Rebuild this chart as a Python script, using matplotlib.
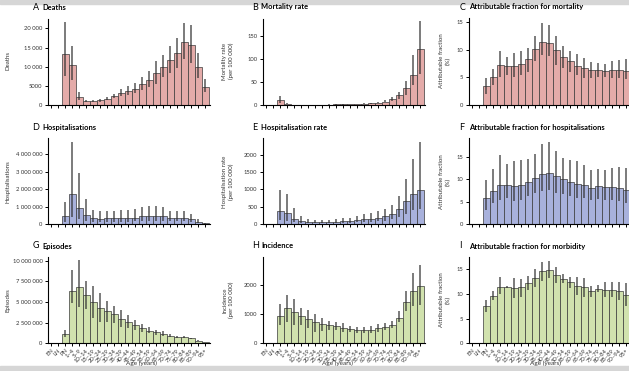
import matplotlib.pyplot as plt
from matplotlib.patches import Rectangle

plt.rcParams["font.family"] = ["Lato", "DejaVu Sans"]

# ---------------------------------------------------------------------------
# Datos. Las barras empiezan en la 3a categoria (PN).
# ---------------------------------------------------------------------------

edades = ["EN", "LN", "PN", "1–4", "5–9", "10–14", "15–19", "20–24", "25–29",
          "30–34", "35–39", "40–44", "45–49", "50–54", "55–59", "60–64",
          "65–69", "70–74", "75–79", "80–84", "85–89", "90–94", "95+"]

muertes = [13300, 10500, 2100, 1000, 1000, 1200, 1600, 2300, 3100, 3700, 4200,
           5500, 6600, 8400, 10000, 11700, 13500, 16400, 15600, 10000, 4800]
muertes_lo = [7500, 6500, 1200, 700, 700, 900, 1200, 1700, 2300, 2700, 3100,
              4000, 4800, 5500, 7200, 8300, 9700, 11900, 11100, 7100, 3300]
muertes_hi = [21600, 15300, 3300, 1400, 1300, 1500, 2100, 3000, 4200, 5000, 5800,
              7200, 8900, 11600, 13100, 15400, 17400, 21400, 20800, 13700, 6900]

mortalidad = [11.5, 2.3, 0.7, 0.5, 0.6, 0.7, 0.8, 1.0, 1.1, 1.3, 1.6, 2.0, 2.5,
              3.5, 5.0, 7.5, 12, 21, 37.5, 64, 121]
mortalidad_lo = [4, 1.2, 0.4, 0.3, 0.4, 0.5, 0.6, 0.7, 0.8, 0.9, 1.1, 1.4, 1.8,
                 2.5, 3.5, 5.5, 8, 13.7, 22, 44, 66]
mortalidad_hi = [18.7, 3.5, 1.0, 0.7, 0.8, 0.9, 1.0, 1.3, 1.4, 1.8, 2.1, 2.6, 3.3,
                 4.6, 6.5, 10, 16.6, 27.4, 51, 109, 181]

fa_mort = [3.45, 5.1, 7.3, 7.0, 7.0, 7.4, 8.3, 10.1, 11.4, 11.2, 10.0, 8.65, 7.9,
           7.1, 6.65, 6.35, 6.3, 6.2, 6.3, 6.3, 6.2]
fa_mort_lo = [2.0, 3.6, 5.1, 5.4, 5.1, 5.4, 6.0, 7.9, 9.1, 8.8, 7.3, 6.7, 6.0,
              5.4, 4.8, 4.8, 5.0, 5.0, 4.9, 4.8, 4.7]
fa_mort_hi = [4.9, 6.5, 9.7, 8.7, 9.3, 9.7, 10.3, 12.5, 14.8, 14.5, 12.4, 10.6, 9.8,
              9.2, 8.4, 7.7, 7.6, 7.4, 7.9, 8.2, 8.3]

hosp = [460e3, 1.72e6, 900e3, 520e3, 360e3, 290e3, 320e3, 330e3, 330e3, 340e3,
        370e3, 440e3, 450e3, 450e3, 470e3, 350e3, 350e3, 360e3, 280e3, 130e3, 40e3]
hosp_lo = [130e3, 400e3, 300e3, 150e3, 120e3, 100e3, 100e3, 120e3, 120e3, 130e3,
           150e3, 170e3, 180e3, 180e3, 180e3, 150e3, 150e3, 150e3, 120e3, 50e3, 20e3]
hosp_hi = [1.24e6, 4.7e6, 2.95e6, 1.43e6, 830e3, 750e3, 720e3, 720e3, 780e3, 800e3,
           860e3, 950e3, 1.05e6, 1.05e6, 1.0e6, 720e3, 720e3, 720e3, 550e3, 270e3, 80e3]

tasa_hosp = [373, 316, 144, 85, 60, 55, 55, 60, 65, 75, 90, 110, 130, 150, 185,
             230, 290, 430, 670, 860, 970]
tasa_hosp_lo = [115, 86, 48, 30, 22, 20, 20, 22, 25, 30, 35, 45, 55, 65, 80,
                100, 130, 200, 300, 390, 430]
tasa_hosp_hi = [976, 861, 450, 230, 140, 120, 115, 115, 140, 160, 180, 230, 290,
                330, 370, 420, 560, 810, 1300, 1870, 2350]

fa_hosp = [5.8, 7.4, 8.7, 8.7, 8.5, 8.6, 9.4, 10.2, 11.1, 11.3, 10.7, 10.0, 9.3,
           8.9, 8.7, 8.1, 8.5, 8.3, 8.3, 8.1, 7.5]
fa_hosp_lo = [3.1, 4.6, 5.4, 5.7, 5.2, 5.3, 6.2, 6.9, 7.4, 7.6, 7.0, 6.6, 6.2,
              5.9, 5.7, 5.3, 5.6, 5.4, 5.4, 5.2, 4.8]
fa_hosp_hi = [9.9, 12.3, 15.3, 13.4, 14.0, 14.4, 14.5, 15.6, 17.8, 18.2, 16.2, 14.7,
              14.4, 14.1, 13.2, 12.0, 12.3, 12.1, 12.5, 12.8, 12.6]

episodios = [1.13e6, 6.4e6, 6.8e6, 5.8e6, 5.0e6, 4.25e6, 3.9e6, 3.52e6, 2.95e6,
             2.55e6, 2.23e6, 1.82e6, 1.54e6, 1.34e6, 1.17e6, 0.93e6, 0.8e6,
             0.76e6, 0.6e6, 0.3e6, 0.12e6]
episodios_lo = [0.81e6, 4.86e6, 4.45e6, 4.17e6, 3.1e6, 2.63e6, 2.55e6, 2.43e6,
                2.0e6, 1.82e6, 1.62e6, 1.42e6, 1.21e6, 1.01e6, 0.93e6, 0.81e6,
                0.7e6, 0.65e6, 0.5e6, 0.25e6, 0.1e6]
episodios_hi = [1.62e6, 8.9e6, 10.1e6, 7.6e6, 7.0e6, 6.1e6, 5.15e6, 4.55e6, 4.05e6,
                3.45e6, 2.85e6, 2.35e6, 1.98e6, 1.66e6, 1.46e6, 1.09e6, 0.9e6,
                0.88e6, 0.7e6, 0.36e6, 0.14e6]

incidencia = [937, 1200, 1063, 937, 834, 720, 651, 620, 590, 520, 490, 450, 440,
              450, 520, 560, 620, 880, 1400, 1790, 1970]
incidencia_lo = [628, 743, 629, 629, 514, 400, 423, 470, 450, 400, 380, 350, 340,
                 350, 400, 450, 510, 720, 1100, 1280, 1300]
incidencia_hi = [1337, 1657, 1520, 1223, 1143, 1006, 857, 770, 720, 700, 600, 570,
                 570, 580, 650, 700, 750, 1100, 1790, 2400, 2700]

fa_morb = [7.6, 9.7, 11.5, 11.5, 11.2, 11.4, 12.2, 13.2, 14.6, 14.9, 13.9, 13.1,
           12.4, 11.7, 11.4, 10.7, 11.1, 10.9, 10.9, 10.6, 9.8]
fa_morb_lo = [6.45, 8.7, 10.0, 11.2, 9.2, 9.5, 10.9, 11.5, 12.6, 13.2, 12.2, 12.2,
              11.3, 9.8, 9.5, 9.5, 10.5, 9.5, 9.4, 8.8, 7.6]
fa_morb_hi = [8.8, 10.7, 13.4, 11.7, 13.2, 13.1, 13.6, 15.1, 16.6, 16.8, 15.6, 14.1,
              13.4, 13.4, 13.2, 11.7, 11.9, 12.4, 12.5, 12.5, 12.3]

ticks_muertes = ["0", "5000", "10 000", "15 000", "20 000"]
ticks_hosp = ["0", "1 000 000", "2 000 000", "3 000 000", "4 000 000"]
ticks_episodios = ["0", "2 500 000", "5 000 000", "7 500 000", "10 000 000"]

# ---------------------------------------------------------------------------
# Paneles
# ---------------------------------------------------------------------------

ROJO = "#e4aba9"
AZUL = "#a8b1dc"
VERDE = "#d1e2ae"

W, H = 629, 371
fig = plt.figure(figsize=(W / 100, H / 100), dpi=100)

COL_X = [47.5, 262.5, 468.5]
FILAS = [(18.5, 105), (138, 224), (256.7, 343.3)]
ANCHO = 23.2 * 7

paneles = [
    # (fila, col, letra, titulo, ylabel, valores, lo, hi, color, ytop, ticks, ticklabels)
    (0, 0, "A", "Deaths", "Deaths", muertes, muertes_lo, muertes_hi, ROJO,
     22600, [0, 5000, 10000, 15000, 20000], ticks_muertes),
    (0, 1, "B", "Mortality rate", "Mortality rate\n(per 100 000)", mortalidad,
     mortalidad_lo, mortalidad_hi, ROJO, 187, [0, 50, 100, 150], None),
    (0, 2, "C", "Attributable fraction for mortality", "Attributable fraction\n(%)",
     fa_mort, fa_mort_lo, fa_mort_hi, ROJO, 15.6, [0, 5, 10, 15], None),
    (1, 0, "D", "Hospitalisations", "Hospitalisations", hosp, hosp_lo, hosp_hi, AZUL,
     4.93e6, [0, 1e6, 2e6, 3e6, 4e6], ticks_hosp),
    (1, 1, "E", "Hospitalisation rate", "Hospitalisation rate\n(per 100 000)",
     tasa_hosp, tasa_hosp_lo, tasa_hosp_hi, AZUL, 2477, [0, 500, 1000, 1500, 2000], None),
    (1, 2, "F", "Attributable fraction for hospitalisations",
     "Attributable fraction\n(%)", fa_hosp, fa_hosp_lo, fa_hosp_hi, AZUL, 19.2,
     [0, 5, 10, 15], None),
    (2, 0, "G", "Episodes", "Episodes", episodios, episodios_lo, episodios_hi, VERDE,
     10.5e6, [0, 2.5e6, 5e6, 7.5e6, 10e6], ticks_episodios),
    (2, 1, "H", "Incidence", "Incidence\n(per 100 000)", incidencia, incidencia_lo,
     incidencia_hi, VERDE, 2970, [0, 1000, 2000], None),
    (2, 2, "I", "Attributable fraction for morbidity", "Attributable fraction\n(%)",
     fa_morb, fa_morb_lo, fa_morb_hi, VERDE, 17.6, [0, 5, 10, 15], None),
]

# posiciones de letras/titulos y ylabels (en pixeles)
LETRA_X = [32.5, 252.5, 459.5]
TITULO_X = [42, 261, 469]
TITULO_Y = [7, 127, 246]
YLABEL_X = [8, 228, 445]
YLABEL_Y = [61, 182, 300]
AGE_X = [141, 337, 545]

x_todas = list(range(1, len(edades) + 1))
x_barras = x_todas[2:]

for fila, col, letra, titulo, ylab, vals, lo, hi, color, ytop, ticks, tlabels in paneles:
    top, bottom = FILAS[fila]
    ax = fig.add_axes([COL_X[col] / W, 1 - bottom / H, ANCHO / W, (bottom - top) / H])
    ax.bar(x_barras, vals, width=1, color=color, edgecolor="#3a3a3a", linewidth=0.5,
           zorder=2)
    ax.vlines(x_barras, lo, hi, color="#2e2e2e", linewidth=1.1, alpha=0.8, zorder=3)

    ax.set_xlim(0.5, 23.7)
    ax.set_ylim(0, ytop)
    ax.set_yticks(ticks)
    if tlabels is not None:
        ax.set_yticklabels(tlabels)
    ax.set_xticks(x_todas)
    if fila == 2:
        ax.set_xticklabels(edades, rotation=45, ha="right", rotation_mode="anchor",
                           fontsize=3.3, color="#333333")
        fig.text(AGE_X[col] / W, 1 - 363.5 / H, "Age (years)", ha="center",
                 va="center", fontsize=4.6, color="#333333")
    else:
        ax.set_xticklabels([])

    for s in ("top", "right"):
        ax.spines[s].set_visible(False)
    for s in ("left", "bottom"):
        ax.spines[s].set_linewidth(0.8)
    ax.tick_params(direction="out", length=2.4, width=0.7, pad=1.2,
                   labelsize=4.2, labelcolor="#333333")
    ax.tick_params(axis="x", pad=0.8)

    ty = 1 - TITULO_Y[fila] / H
    fig.text(LETRA_X[col] / W, ty, letra, fontsize=6.5, va="center", ha="left")
    fig.text(TITULO_X[col] / W, ty, titulo, fontsize=5.4, fontweight="bold",
             va="center", ha="left")
    fig.text(YLABEL_X[col] / W, 1 - YLABEL_Y[fila] / H, ylab, rotation=90,
             ha="center", va="center", fontsize=4.4, color="#333333",
             linespacing=1.3)

# franjas grises arriba y abajo
fig.patches.append(Rectangle((0, 1 - 4 / H), 1, 4 / H, transform=fig.transFigure,
                             color="#d6d6d6", zorder=0))
fig.patches.append(Rectangle((0, 0), 1, 5.5 / H, transform=fig.transFigure,
                             color="#d6d6d6", zorder=0))

fig.savefig("out.png", dpi=100)
